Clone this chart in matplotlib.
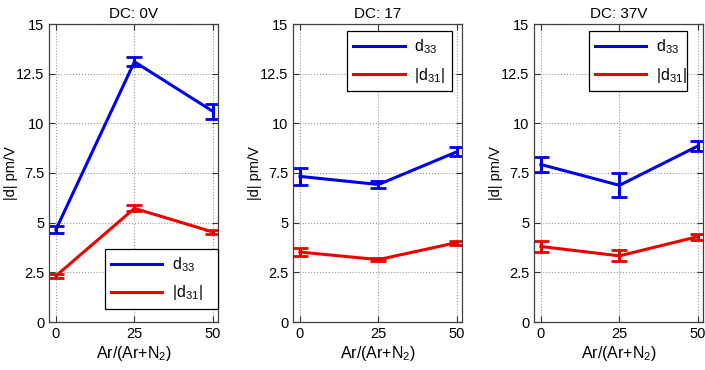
import matplotlib.pyplot as plt

plt.rcParams['font.family'] = ['Liberation Sans', 'DejaVu Sans']
plt.rcParams['mathtext.default'] = 'regular'

ar_ratio = [0, 25, 50]
titles = ['DC: 0V', 'DC: 17', 'DC: 37V']

d33 = [[4.65, 13.1, 10.6], [7.33, 6.92, 8.57], [7.93, 6.88, 8.86]]
d33_err = [[0.18, 0.22, 0.38], [0.42, 0.18, 0.22], [0.4, 0.6, 0.25]]
d31 = [[2.32, 5.72, 4.53], [3.52, 3.14, 4.0], [3.8, 3.33, 4.3]]
d31_err = [[0.12, 0.15, 0.08], [0.22, 0.08, 0.1], [0.3, 0.28, 0.15]]

legend_boxes = [(0.33, 0.044, 0.67, 0.24), (0.32, 0.775, 0.62, 0.198), (0.325, 0.775, 0.58, 0.198)]

fig = plt.figure(figsize=(7.05, 3.70), dpi=100)
lefts = [49 / 705, 293 / 705, 534 / 705]

for i in range(3):
    ax = fig.add_axes([lefts[i], 48 / 370, 169 / 705, 298 / 370])
    ax.errorbar(ar_ratio, d33[i], yerr=d33_err[i], color='#0000ee', lw=2.2,
                capsize=6, capthick=2, label='d$_{33}$')
    ax.errorbar(ar_ratio, d31[i], yerr=d31_err[i], color='#ee0000', lw=2.2,
                capsize=6, capthick=2, label='|d$_{31}$|')
    ax.set_xlim(-2.2, 51.6)
    ax.set_ylim(0, 15)
    ax.set_xticks(ar_ratio)
    ax.set_yticks([0, 2.5, 5, 7.5, 10, 12.5, 15])
    ax.set_yticklabels(['0', '2.5', '5', '7.5', '10', '12.5', '15'])
    ax.grid(True, linestyle=':', color='#999999', lw=0.8)
    ax.tick_params(direction='in', top=True, right=True, labelsize=10.5, length=4,
                   color='#333333')
    for s in ax.spines.values():
        s.set_color('#404040')
        s.set_linewidth(0.9)
    ax.set_title(titles[i], fontsize=11, pad=4)
    ax.set_xlabel('Ar/(Ar+N$_2$)', fontsize=11.5, labelpad=2)
    ax.set_ylabel('|d| pm/V', fontsize=10.5)
    ax.yaxis.set_label_coords(-0.185, 0.5)
    handles, labels = ax.get_legend_handles_labels()
    handles = [h[0] for h in handles]
    leg = ax.legend(handles, labels, bbox_to_anchor=legend_boxes[i], mode='expand',
                    loc='lower left', fontsize=11.5, fancybox=False, framealpha=1,
                    edgecolor='black', handlelength=3.2, borderaxespad=0,
                    labelspacing=0.6, handletextpad=0.6)
    leg.get_frame().set_linewidth(0.9)

fig.savefig('out.png', dpi=100)
